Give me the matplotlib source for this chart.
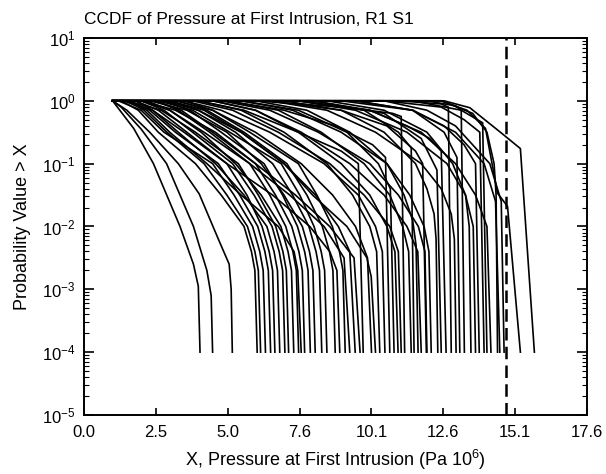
import numpy as np
import matplotlib
matplotlib.use("Agg")
import matplotlib.pyplot as plt
from matplotlib.ticker import FixedLocator, LogLocator, NullFormatter, LogFormatterSciNotation

plt.rcParams['font.family'] = ['Liberation Sans', 'DejaVu Sans']
plt.rcParams['mathtext.fontset'] = 'custom'
plt.rcParams['mathtext.rm'] = 'Liberation Sans'

# each curve: x values (Pa 1e6) and log10 of the exceedance probability
early_x = [
    [1.0, 1.74, 2.43, 3.36, 3.83, 4.00, 4.06],
    [1.0, 1.30, 2.00, 2.89, 3.83, 4.30, 4.45, 4.50],
    [1.0, 1.50, 2.30, 3.30, 4.03, 4.70, 5.08, 5.15, 5.19],
]
early_L = [
    [0, -0.44, -1.0, -2.0, -2.6, -2.95, -4],
    [0, -0.10, -0.45, -1.0, -2.0, -2.7, -3.1, -4],
    [0, -0.15, -0.5, -1.0, -1.48, -2.2, -2.6, -3.0, -4],
]

# cluster ending 6-9, all through the same probability levels
mid_L = [0, 0, -0.15, -0.5, -1.0, -1.5, -2.0, -2.4, -2.7, -4]
mid_x = [
    [1.0, 1.3, 1.9, 2.6, 3.9, 4.80, 5.60, 5.86, 5.98, 6.06],
    [1.0, 1.5, 2.1, 2.9, 4.2, 5.00, 5.72, 5.98, 6.10, 6.18],
    [1.0, 1.2, 2.0, 2.8, 4.5, 5.25, 5.90, 6.15, 6.27, 6.35],
    [1.0, 1.6, 2.3, 3.2, 4.7, 5.45, 6.08, 6.33, 6.45, 6.53],
    [1.0, 1.4, 2.4, 3.5, 5.0, 5.70, 6.23, 6.48, 6.60, 6.68],
    [1.0, 1.8, 2.4, 3.3, 4.6, 5.60, 6.40, 6.65, 6.77, 6.85],
    [1.0, 2.0, 2.8, 3.8, 5.2, 5.95, 6.58, 6.83, 6.95, 7.03],
    [1.0, 1.5, 2.7, 3.9, 5.4, 6.10, 6.71, 6.96, 7.08, 7.16],
    [1.0, 2.2, 3.0, 4.1, 5.3, 6.20, 6.89, 7.14, 7.26, 7.34],
    [1.0, 2.5, 3.3, 4.4, 5.8, 6.50, 7.06, 7.31, 7.43, 7.51],
    [1.0, 1.4, 2.2, 3.0, 4.3, 5.50, 6.80, 7.35, 7.48, 7.60],
    [1.0, 2.0, 3.2, 4.6, 6.0, 6.70, 7.27, 7.52, 7.64, 7.72],
    [1.0, 2.8, 3.7, 4.8, 6.3, 6.95, 7.47, 7.72, 7.84, 7.92],
    [1.0, 2.3, 3.6, 5.0, 6.2, 7.00, 7.64, 7.89, 8.01, 8.09],
    [1.0, 3.0, 4.0, 5.3, 6.6, 7.30, 7.87, 8.12, 8.24, 8.32],
    [1.0, 2.6, 3.8, 5.1, 6.9, 7.55, 8.05, 8.30, 8.42, 8.50],
    [1.0, 3.3, 4.3, 5.6, 7.1, 7.80, 8.34, 8.59, 8.71, 8.79],
    [1.0, 1.8, 2.6, 3.6, 5.0, 6.60, 7.90, 8.60, 8.85, 8.95],
    [1.0, 3.5, 4.5, 5.8, 7.5, 8.15, 8.69, 8.94, 9.06, 9.14],
]

# later curves, each with its own points
late_x = [
    [1.0, 2.0, 3.0, 4.2, 5.8, 7.2, 8.4, 9.1, 9.30],
    [1.0, 2.8, 4.0, 5.5, 7.0, 8.1, 8.9, 9.3, 9.49],
    [1.0, 2.5, 3.4, 4.5, 6.0, 7.4, 8.6, 9.45, 9.66],
    [1.0, 4.0, 5.6, 7.5, 9.0, 9.6, 9.77],
    [1.0, 3.2, 4.5, 6.0, 7.6, 8.7, 9.5, 9.92, 10.06],
    [1.0, 3.0, 4.2, 5.5, 7.0, 8.0, 9.2, 9.9, 10.05, 10.20],
    [1.0, 4.0, 5.5, 7.0, 8.5, 9.4, 10.0, 10.24, 10.35],
    [1.0, 3.5, 4.8, 6.5, 8.4, 9.6, 10.2, 10.44, 10.53],
    [1.0, 5.0, 7.0, 8.8, 10.1, 10.55, 10.70],
    [1.0, 5.5, 7.5, 9.2, 10.3, 10.72, 10.85],
    [1.0, 4.5, 6.0, 7.5, 9.0, 10.0, 10.6, 10.88, 10.99],
    [1.0, 3.8, 5.2, 6.8, 8.6, 9.8, 10.7, 11.0, 11.10],
    [1.0, 6.0, 9.0, 10.8, 11.1, 11.22],
    [1.0, 5.0, 6.8, 8.3, 9.8, 10.7, 11.15, 11.36, 11.45],
    [1.0, 7.5, 9.8, 11.0, 11.45, 11.55],
    [1.0, 6.0, 7.8, 9.3, 10.6, 11.2, 11.5, 11.62, 11.69],
    [1.0, 4.5, 6.0, 7.6, 9.3, 10.5, 11.3, 11.68, 11.80],
    [1.0, 6.5, 9.0, 10.6, 11.6, 11.85, 11.98],
    [1.0, 4.8, 6.5, 8.2, 10.0, 11.0, 11.7, 11.93, 12.00],
    [1.0, 5.5, 7.3, 9.0, 10.6, 11.4, 11.9, 12.07, 12.15],
    [1.0, 7.0, 9.0, 10.5, 11.6, 12.0, 12.25, 12.32, 12.38],
    [1.0, 8.0, 10.5, 11.8, 12.35, 12.50],
    [1.0, 7.5, 10.0, 11.3, 12.1, 12.5, 12.67],
    [1.0, 11.0, 12.5, 12.75, 12.85],
    [1.0, 6.5, 8.5, 10.2, 11.8, 12.5, 12.85, 12.96, 13.02],
    [1.0, 9.5, 11.5, 12.6, 13.05, 13.15],
    [1.0, 12.0, 13.0, 13.2, 13.31],
    [1.0, 8.5, 10.5, 12.0, 12.9, 13.35, 13.48, 13.54],
    [1.0, 7.5, 9.5, 11.3, 12.7, 13.35, 13.62, 13.70],
    [1.0, 9.0, 11.5, 12.6, 13.3, 13.7, 13.83],
    [1.0, 10.5, 12.5, 13.3, 13.85, 14.00],
    [1.0, 11.5, 13.2, 13.95, 14.10],
    [1.0, 8.0, 10.0, 11.8, 13.0, 13.7, 14.1, 14.24],
    [1.0, 12.5, 13.6, 14.1, 14.35, 14.42, 14.47],
    [1.0, 9.5, 11.5, 13.0, 14.0, 14.4, 14.55],
    [1.0, 10.5, 12.0, 13.0, 14.2, 14.6, 14.70],
    [1.0, 12.5, 13.4, 14.05, 14.47, 14.82, 15.27],
    [1.0, 12.6, 13.5, 14.57, 15.27, 15.76],
]
late_L = [
    [0, 0, -0.15, -0.5, -1.0, -1.5, -2.0, -2.5, -4],
    [0, 0, -0.15, -0.5, -1.0, -1.5, -2.0, -2.4, -4],
    [0, 0, -0.15, -0.5, -1.0, -1.5, -2.0, -2.5, -4],
    [0, 0, -0.15, -0.5, -0.8, -1.0, -4],
    [0, 0, -0.15, -0.5, -1.0, -1.5, -2.0, -2.5, -4],
    [0, 0, -0.15, -0.5, -1.0, -1.5, -2.0, -2.5, -2.8, -4],
    [0, 0, -0.15, -0.5, -1.0, -1.5, -2.0, -2.4, -4],
    [0, 0, -0.15, -0.5, -1.0, -1.5, -2.0, -2.4, -4],
    [0, 0, -0.15, -0.4, -0.7, -0.9, -4],
    [0, 0, -0.15, -0.5, -1.0, -1.4, -4],
    [0, 0, -0.15, -0.5, -1.0, -1.5, -2.0, -2.4, -4],
    [0, 0, -0.15, -0.5, -1.0, -1.5, -2.0, -2.4, -4],
    [0, 0, -0.1, -0.2, -0.25, -4],
    [0, 0, -0.15, -0.5, -1.0, -1.5, -2.0, -2.4, -4],
    [0, 0, -0.15, -0.5, -0.75, -4],
    [0, 0, -0.15, -0.5, -1.0, -1.5, -1.9, -2.3, -4],
    [0, 0, -0.15, -0.5, -1.0, -1.5, -2.0, -2.4, -4],
    [0, 0, -0.15, -0.4, -0.8, -1.0, -4],
    [0, 0, -0.15, -0.5, -1.0, -1.5, -2.0, -2.4, -4],
    [0, 0, -0.15, -0.5, -1.0, -1.5, -2.0, -2.4, -4],
    [0, 0, -0.15, -0.5, -1.0, -1.4, -1.8, -2.2, -4],
    [0, 0, -0.2, -0.6, -1.1, -4],
    [0, 0, -0.15, -0.4, -0.6, -0.8, -4],
    [0, 0, -0.05, -0.1, -4],
    [0, 0, -0.15, -0.5, -1.0, -1.4, -1.8, -2.2, -4],
    [0, 0, -0.15, -0.5, -0.9, -4],
    [0, 0, -0.08, -0.15, -4],
    [0, 0, -0.15, -0.5, -1.0, -1.5, -2.0, -4],
    [0, 0, -0.15, -0.5, -1.0, -1.5, -2.0, -4],
    [0, 0, -0.15, -0.4, -0.7, -1.0, -4],
    [0, 0, -0.1, -0.3, -0.5, -4],
    [0, 0, -0.15, -0.35, -4],
    [0, 0, -0.15, -0.5, -1.0, -1.5, -2.0, -4],
    [0, 0, -0.2, -0.5, -1.0, -1.5, -4],
    [0, 0, -0.15, -0.5, -1.0, -1.6, -4],
    [0, 0, -0.15, -0.4, -1.0, -1.6, -4],
    [0, 0, -0.15, -0.44, -1.47, -1.68, -4],
    [0, 0, -0.11, -0.5, -0.76, -4],
]

limit_x = 14.75
xtick_labels = ['0.0', '2.5', '5.0', '7.6', '10.1', '12.6', '15.1', '17.6']
ytick_vals = [1e-5, 1e-4, 1e-3, 1e-2, 1e-1, 1e0, 1e1]

fig = plt.figure(figsize=(6.06, 4.74), dpi=100)
ax = fig.add_axes([0.1386, 0.1245, 0.830, 0.7954])

all_x = early_x + mid_x + late_x
all_L = early_L + [mid_L] * len(mid_x) + late_L
for xs, Ls in zip(all_x, all_L):
    ax.plot(xs, 10.0 ** np.array(Ls, dtype=float), c='k', lw=1.2)

ax.axvline(limit_x, c='k', lw=1.8, ls=(0, (5, 2.5)))

ax.set_yscale('log')
ax.set_ylim(1e-5, 1e1)
ax.set_xlim(0, 17.6)
ax.xaxis.set_major_locator(FixedLocator(np.linspace(0, 17.6, 8)))
ax.set_xticklabels(xtick_labels)
ax.yaxis.set_major_locator(FixedLocator(ytick_vals))
ax.yaxis.set_major_formatter(LogFormatterSciNotation())
ax.yaxis.set_minor_locator(LogLocator(base=10, subs=np.arange(2, 10), numticks=20))
ax.yaxis.set_minor_formatter(NullFormatter())

ax.tick_params(which='both', direction='in', top=True, right=True, labelsize=12)
ax.tick_params(which='major', length=7, width=1.2)
ax.tick_params(which='minor', length=3.5, width=0.8)
ax.tick_params(axis='x', which='major', length=5, pad=7)
ax.tick_params(axis='y', which='major', pad=6)
for s in ax.spines.values():
    s.set_linewidth(1.4)

ax.set_title('CCDF of Pressure at First Intrusion, R1 S1', loc='left', fontsize=12.5, pad=10)
ax.set_xlabel('X, Pressure at First Intrusion (Pa 10$^6$)', fontsize=13, labelpad=6)
ax.set_ylabel('Probability Value > X', fontsize=13, labelpad=8)

fig.savefig('out.png', dpi=100)
